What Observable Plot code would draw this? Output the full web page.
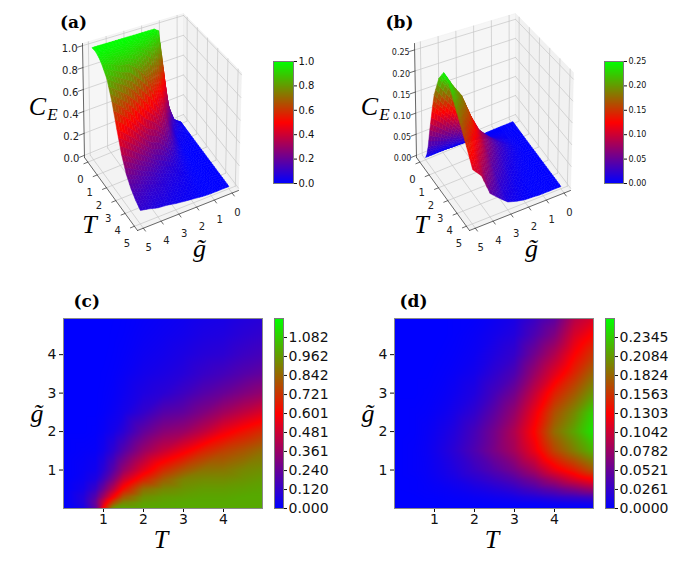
<!DOCTYPE html>
<html>
<head>
<meta charset="utf-8">
<script src="https://cdn.jsdelivr.net/npm/d3@7"></script>
<script src="https://cdn.jsdelivr.net/npm/@observablehq/plot@0.6"></script>
<style>
  html, body { margin: 0; padding: 0; background: #fff; }
  #fig { position: relative; width: 699px; height: 566px; overflow: hidden; background: #fff; }
</style>
</head>
<body>
<div id="fig"></div>
<script>
// ================= DATA =================
// grid of temperatures T (rows) and couplings g~ (columns)
const TVals = [0, 0.5, 0.8, 1, 1.25, 1.5, 2, 2.5, 3, 3.5, 4, 4.5, 5];
const gVals = [0, 0.15, 0.3, 0.5, 0.75, 1, 1.5, 2, 2.5, 3, 3.5, 4, 4.5, 5];

// C_E for panels (a) and (c): rows follow TVals, columns follow gVals
const CE_first = [
  [0, 0, 0, 0, 0, 0, 0, 0, 0, 0, 0, 0, 0, 0],
  [0.06, 0.08, 0.08, 0.05, 0.03, 0.02, 0.01, 0, 0, 0, 0, 0, 0, 0],
  [0.22, 0.24, 0.2, 0.13, 0.07, 0.04, 0.015, 0.005, 0, 0, 0, 0, 0, 0],
  [0.6, 0.5, 0.38, 0.26, 0.16, 0.1, 0.045, 0.02, 0.008, 0.004, 0.002, 0, 0, 0],
  [0.97, 0.78, 0.6, 0.44, 0.3, 0.21, 0.11, 0.05, 0.025, 0.013, 0.007, 0.004, 0.002, 0.001],
  [1.0, 0.92, 0.8, 0.64, 0.48, 0.35, 0.2, 0.1, 0.05, 0.03, 0.018, 0.01, 0.006, 0.004],
  [1.0, 0.98, 0.94, 0.86, 0.68, 0.54, 0.36, 0.23, 0.12, 0.07, 0.045, 0.03, 0.02, 0.014],
  [1.0, 0.99, 0.97, 0.92, 0.82, 0.7, 0.47, 0.32, 0.2, 0.1, 0.065, 0.045, 0.032, 0.023],
  [1.0, 1.0, 0.98, 0.95, 0.91, 0.8, 0.57, 0.36, 0.23, 0.145, 0.09, 0.065, 0.045, 0.033],
  [1.0, 1.0, 0.99, 0.97, 0.93, 0.87, 0.68, 0.45, 0.3, 0.2, 0.13, 0.09, 0.065, 0.048],
  [1.0, 1.0, 0.99, 0.97, 0.93, 0.88, 0.75, 0.56, 0.38, 0.245, 0.16, 0.105, 0.075, 0.055],
  [1.0, 1.0, 1.0, 0.98, 0.95, 0.92, 0.8, 0.64, 0.45, 0.3, 0.2, 0.14, 0.1, 0.075],
  [1.0, 1.0, 1.0, 0.99, 0.97, 0.94, 0.86, 0.71, 0.52, 0.35, 0.235, 0.165, 0.12, 0.09]
];

// C_E for panels (b) and (d)
const CE_second = [
  [0, 0, 0, 0, 0, 0, 0, 0, 0, 0, 0, 0, 0, 0],
  [0, 0, 0, 0.001, 0.001, 0.002, 0.002, 0.001, 0.001, 0, 0, 0, 0, 0],
  [0, 0, 0.001, 0.002, 0.003, 0.004, 0.005, 0.004, 0.002, 0.001, 0, 0, 0, 0],
  [0, 0, 0.001, 0.003, 0.005, 0.007, 0.009, 0.007, 0.004, 0.002, 0.001, 0, 0, 0],
  [0, 0.001, 0.002, 0.004, 0.008, 0.011, 0.015, 0.012, 0.007, 0.004, 0.002, 0.001, 0, 0],
  [0, 0.001, 0.003, 0.006, 0.011, 0.016, 0.022, 0.018, 0.012, 0.007, 0.004, 0.002, 0.001, 0.001],
  [0, 0.002, 0.005, 0.011, 0.02, 0.029, 0.04, 0.036, 0.025, 0.016, 0.01, 0.006, 0.004, 0.002],
  [0, 0.003, 0.008, 0.017, 0.03, 0.043, 0.062, 0.06, 0.048, 0.035, 0.024, 0.016, 0.01, 0.006],
  [0, 0.004, 0.012, 0.025, 0.042, 0.06, 0.085, 0.09, 0.076, 0.058, 0.04, 0.027, 0.018, 0.012],
  [0, 0.005, 0.018, 0.037, 0.06, 0.085, 0.12, 0.132, 0.12, 0.1, 0.078, 0.058, 0.04, 0.028],
  [0, 0.008, 0.025, 0.05, 0.085, 0.12, 0.165, 0.185, 0.17, 0.145, 0.115, 0.09, 0.065, 0.045],
  [0, 0.01, 0.03, 0.065, 0.11, 0.145, 0.195, 0.215, 0.2, 0.175, 0.15, 0.13, 0.11, 0.09],
  [0, 0.012, 0.035, 0.08, 0.13, 0.175, 0.225, 0.25, 0.24, 0.21, 0.185, 0.16, 0.135, 0.11]
];

// tick labels
const ticks3D = [0, 1, 2, 3, 4, 5];
const heatTicks = [1, 2, 3, 4];
const zTicksA = [0, 0.2, 0.4, 0.6, 0.8, 1.0];
const zTicksB = [0, 0.05, 0.10, 0.15, 0.20, 0.25];
const cbTicksC = [0, 0.120, 0.240, 0.361, 0.481, 0.601, 0.721, 0.842, 0.962, 1.082];
const cbTicksD = [0, 0.0261, 0.0521, 0.0782, 0.1042, 0.1303, 0.1563, 0.1824, 0.2084, 0.2345];
// colour limits
const vmaxA = 1.0, vmaxB = 0.25, vmaxC = 1.2024, vmaxD = 0.26056;
const panelLabels = ["(a)", "(b)", "(c)", "(d)"];

// ================= HELPERS =================
const serif = "'Liberation Serif', 'DejaVu Serif', serif";
const boldSerif = "'DejaVu Serif', serif";
const sans = "'DejaVu Sans', sans-serif";
const fig = document.getElementById("fig");

function cmap(vmax) {
  return {type: "linear", domain: [0, vmax / 2, vmax], range: ["#0000ff", "#ff0000", "#00ff00"], interpolate: "rgb", clamp: true};
}
function place(el, left, top) {
  el.style.position = "absolute";
  el.style.left = left + "px";
  el.style.top = top + "px";
  fig.appendChild(el);
}

// ----- 3D surface panel -----
function plot3D(M, opt) {
  const W = 350, H = 270;
  const lo = -0.36, hi = 5.33;                 // box extent of both horizontal axes
  const fr = t => (t - lo) / (hi - lo);
  const fz = z => (z - opt.zlo) / (opt.zhi - opt.zlo);
  // view of the unit box: floor and top corners (B back, R right, L left, F front)
  const base = {B: [183, 116], R: [238, 190], L: [84, 157], F: [137, 230]};
  const roof = {B: [183, 13], R: [241, 72], L: [82, 43], F: [138, 101]};
  const P = (fu, fv, fw) => {
    const w = {B: (1 - fu) * (1 - fv), R: fu * (1 - fv), L: (1 - fu) * fv, F: fu * fv};
    let x = 0, y = 0;
    for (const k in w) {
      x += w[k] * (base[k][0] * (1 - fw) + roof[k][0] * fw);
      y += w[k] * (base[k][1] * (1 - fw) + roof[k][1] * fw);
    }
    return {x, y};
  };
  const poly = pts => pts.concat([pts[0]]);
  const floor = poly([P(0, 0, 0), P(1, 0, 0), P(1, 1, 0), P(0, 1, 0)]);
  const paneL = poly([P(0, 0, 0), P(0, 1, 0), P(0, 1, 1), P(0, 0, 1)]);
  const paneR = poly([P(0, 0, 0), P(1, 0, 0), P(1, 0, 1), P(0, 0, 1)]);

  const grid = []; let gid = 0;
  const seg = (arr, a, b) => { gid++; arr.push({id: gid, ...a}, {id: gid, ...b}); };
  for (const t of ticks3D) {
    seg(grid, P(fr(t), 0, 0), P(fr(t), 1, 0));
    seg(grid, P(0, fr(t), 0), P(1, fr(t), 0));
    seg(grid, P(0, fr(t), 0), P(0, fr(t), 1));
    seg(grid, P(fr(t), 0, 0), P(fr(t), 0, 1));
  }
  for (const z of opt.zTicks) {
    seg(grid, P(0, 0, fz(z)), P(0, 1, fz(z)));
    seg(grid, P(0, 0, fz(z)), P(1, 0, fz(z)));
  }
  const axes = [];
  seg(axes, P(0, 1, 0), P(1, 1, 0));
  seg(axes, P(1, 0, 0), P(1, 1, 0));
  seg(axes, P(0, 1, 0), P(0, 1, 1));
  for (const t of ticks3D) {
    seg(axes, P(fr(t), 1, 0), P(fr(t), 1.04, 0));
    seg(axes, P(1, fr(t), 0), P(1.04, fr(t), 0));
  }
  for (const z of opt.zTicks) seg(axes, P(0, 1, fz(z)), P(0, 1.05, fz(z)));

  const labU = ticks3D.map(t => { const p = P(fr(t), 1, 0); return {x: p.x - 7.5, y: p.y + 17.8, t: String(t)}; });
  const labV = ticks3D.map(t => { const p = P(1, fr(t), 0); return {x: p.x + 5.3, y: p.y + 19.9, t: String(t)}; });
  const labZ = opt.zTicks.map(z => { const p = P(0, 1, fz(z)); return {x: p.x - 5, y: p.y + 3, t: d3.format(opt.zFmt)(z)}; });

  // surface: heatmap g on the "T"-labelled edge, heatmap T on the "g"-labelled edge
  const s = 3, quads = [];
  for (let i = 0; i < TVals.length - 1; i++) for (let j = 0; j < gVals.length - 1; j++) {
    const z00 = M[i][j], z10 = M[i + 1][j], z01 = M[i][j + 1], z11 = M[i + 1][j + 1];
    const bil = (a, b) => z00 * (1 - a) * (1 - b) + z10 * a * (1 - b) + z01 * (1 - a) * b + z11 * a * b;
    const Tat = a => TVals[i] + a * (TVals[i + 1] - TVals[i]);
    const gat = b => gVals[j] + b * (gVals[j + 1] - gVals[j]);
    for (let p = 0; p < s; p++) for (let q = 0; q < s; q++) {
      const cs = [[p / s, q / s], [(p + 1) / s, q / s], [(p + 1) / s, (q + 1) / s], [p / s, (q + 1) / s]];
      const zs = cs.map(([a, b]) => bil(a, b));
      const pts = cs.map(([a, b], k) => P(fr(gat(b)), fr(Tat(a)), fz(zs[k])));
      const c = P(fr(gat((q + 0.5) / s)), fr(Tat((p + 0.5) / s)), 0);
      quads.push({pts, v: d3.mean(zs), depth: c.y});
    }
  }
  quads.sort((a, b) => a.depth - b.depth);
  const surf = quads.flatMap((qd, k) => qd.pts.concat([qd.pts[0]]).map(pt => ({id: k, x: pt.x, y: pt.y, v: qd.v})));

  const mathTxt = [
    {x: 37, y: 106, t: "C", fs: 26},
    {x: 52, y: 114, t: "E", fs: 17},
    {x: 89, y: 224, t: "T", fs: 26},
    {x: 199, y: 248, t: "g\u0303", fs: 26}
  ];

  return Plot.plot({
    width: W, height: H, margin: 0,
    style: {background: "none", fontFamily: sans, fontSize: "10px", color: "#222", overflow: "visible"},
    x: {domain: [0, W], range: [0, W], axis: null},
    y: {domain: [0, H], range: [0, H], axis: null},
    color: cmap(opt.vmax),
    marks: [
      Plot.line(floor, {x: "x", y: "y", fill: "#f3f3f3", stroke: "#ececec", strokeWidth: 0.5}),
      Plot.line(paneL, {x: "x", y: "y", fill: "#f6f6f6", stroke: "#ececec", strokeWidth: 0.5}),
      Plot.line(paneR, {x: "x", y: "y", fill: "#f1f1f1", stroke: "#ececec", strokeWidth: 0.5}),
      Plot.line(grid, {x: "x", y: "y", z: "id", stroke: "#c6c6c6", strokeWidth: 0.7}),
      Plot.line(axes, {x: "x", y: "y", z: "id", stroke: "#444", strokeWidth: 0.8}),
      Plot.text(labU, {x: "x", y: "y", text: "t", fontSize: 10, fill: "#222"}),
      Plot.text(labV, {x: "x", y: "y", text: "t", fontSize: 10, fill: "#222"}),
      Plot.text(labZ, {x: "x", y: "y", text: "t", fontSize: opt.zfs, fill: "#222", textAnchor: "end"}),
      Plot.line(surf, {x: "x", y: "y", z: "id", fill: "v", stroke: "v", strokeWidth: 0.5}),
      Plot.text(mathTxt, {x: "x", y: "y", text: "t", fontSize: "fs", fontStyle: "italic", fontFamily: serif, fill: "#000"}),
      Plot.text([opt.label], {text: d => d, x: opt.labelX, y: 22, fontSize: 17, fontWeight: "bold", fontFamily: boldSerif, fill: "#000"})
    ]
  });
}

// ----- heatmap panel -----
function heat(M, vmax, label, ldx) {
  const pts = TVals.flatMap((T, i) => gVals.map((g, j) => ({T, g, v: M[i][j]})));
  const xd = [0, 4.975], yd = [0, 4.94];
  return Plot.plot({
    width: 264, height: 276, marginLeft: 63, marginRight: 2, marginTop: 38, marginBottom: 48,
    style: {background: "none", fontFamily: sans, fontSize: "14px", color: "#111", overflow: "visible"},
    x: {domain: xd, ticks: heatTicks, tickSize: 4, tickPadding: 2, label: null, tickFormat: d3.format("d")},
    y: {domain: yd, ticks: heatTicks, tickSize: 4, tickPadding: 3, label: null, tickFormat: d3.format("d")},
    color: cmap(vmax),
    marks: [
      Plot.raster(pts, {x: "T", y: "g", fill: "v", interpolate: "barycentric", x1: xd[0], x2: xd[1], y1: yd[0], y2: yd[1]}),
      Plot.frame({stroke: "#8a8a8a"}),
      Plot.text([label], {text: d => d, frameAnchor: "top-left", dx: ldx, dy: -24, fontSize: 17, fontWeight: "bold", fontFamily: boldSerif, fill: "#000"}),
      Plot.text(["T"], {text: d => d, frameAnchor: "bottom", dx: -2, dy: 39, fontSize: 26, fontStyle: "italic", fontFamily: serif, fill: "#000"}),
      Plot.text(["g\u0303"], {text: d => d, frameAnchor: "left", dx: -33, dy: 0, fontSize: 26, fontStyle: "italic", fontFamily: serif, fill: "#000"})
    ]
  });
}

// ----- colour bar -----
function cbar(vmax, ticks, fmt, o) {
  return Plot.plot({
    width: o.w, height: o.h, marginLeft: 10, marginRight: o.w - 10 - o.bw, marginTop: o.mt, marginBottom: o.h - o.mt - o.bh,
    style: {background: "none", fontFamily: sans, fontSize: o.fs + "px", color: "#111", overflow: "visible"},
    x: {domain: [0, 1], axis: null},
    y: {domain: [0, vmax], axis: "right", ticks, tickFormat: d3.format(fmt), tickSize: 3, tickPadding: 2, label: null},
    color: cmap(vmax),
    marks: [
      Plot.raster({fill: (x, y) => y, x1: 0, x2: 1, y1: 0, y2: vmax}),
      Plot.frame({stroke: "#7a7a7a"})
    ]
  });
}

// ================= LAYOUT =================
place(plot3D(CE_first, {vmax: vmaxA, zlo: -0.02, zhi: 1.02, zTicks: zTicksA, zFmt: ".1f", zfs: 10, label: panelLabels[0], labelX: 73}), 0, 0);
place(cbar(vmaxA, zTicksA, ".1f", {w: 60, h: 145, bw: 20, mt: 11, bh: 122, fs: 10}), 263, 50);
place(plot3D(CE_second, {vmax: vmaxB, zlo: -0.0052, zhi: 0.2652, zTicks: zTicksB, zFmt: ".2f", zfs: 8, label: panelLabels[1], labelX: 67}), 332, 0);
place(cbar(vmaxB, zTicksB, ".2f", {w: 60, h: 145, bw: 19, mt: 11, bh: 122, fs: 8}), 594, 50);

place(heat(CE_first, vmaxC, panelLabels[2], 10), 0, 280);
place(cbar(vmaxC, cbTicksC, ".3f", {w: 80, h: 276, bw: 9, mt: 38, bh: 190, fs: 14}), 264, 280);
place(heat(CE_second, vmaxD, panelLabels[3], 5), 331, 280);
place(cbar(vmaxD, cbTicksD, ".4f", {w: 100, h: 276, bw: 9, mt: 38, bh: 190, fs: 14}), 595, 280);
</script>
</body>
</html>
